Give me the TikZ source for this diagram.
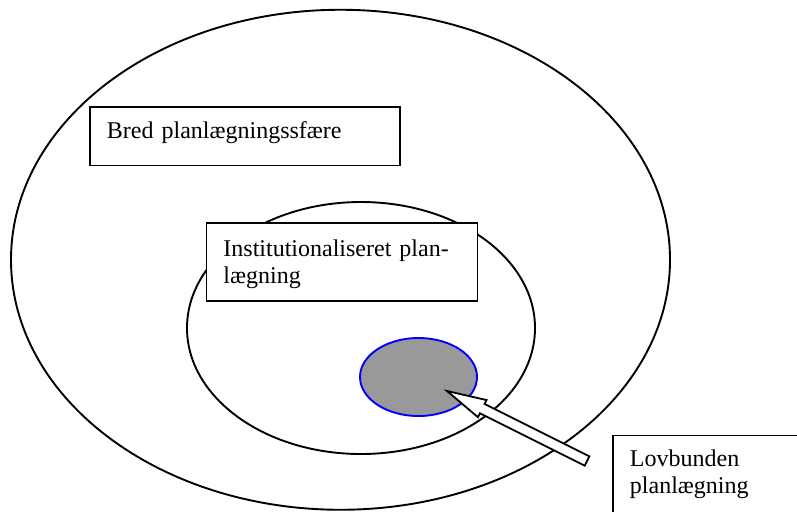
\documentclass[tikz,border=0pt]{standalone}
\usepackage{fontspec}
\setmainfont{Liberation Serif}
\usetikzlibrary{shapes.geometric,calc}
\definecolor{coreblue}{HTML}{0000FF}
\definecolor{coregray}{HTML}{999999}

\begin{document}
\begin{tikzpicture}[
  x=0.5pt,y=-0.5pt,
  font=\fontsize{12}{13.5}\selectfont,
  ring/.style={draw=black,line width=0.95pt,ellipse,inner sep=0pt},
  box/.style={draw=black,fill=white,line width=0.95pt,anchor=north west,align=left,inner xsep=8.5pt,inner ysep=0pt},
  hollow/.style={draw=black,fill=white,line width=0.9pt,line join=miter},
]
\useasboundingbox (0,0) rectangle (797,511);
\clip (0,0) rectangle (797,511);

% --- spheres
\node[ring,minimum width=329.5pt,minimum height=250pt] (outer) at (340.5,259.75) {};
\node[ring,minimum width=174pt,minimum height=126pt] (inner) at (361,328) {};
\node[ring,draw=coreblue,fill=coregray,minimum width=58.5pt,minimum height=39pt] (core) at (418.5,377) {};

% --- labels
\node[box,text width=138pt,minimum height=29.25pt,text depth=6.5pt] (bred) at (89,106) {Bred planlægningssfære};
\node[box,text width=118.5pt,minimum height=39pt,text depth=14.1pt] (inst) at (205.5,222) {Institutionaliseret plan-\\lægning};
\node[box,text width=83pt,minimum height=39pt] (lov) at (612,434.5) {Lovbunden\\planlægning};

% --- block arrow into the core
\coordinate (tip) at ($(core)+(28.5,14)$);
\coordinate (tail) at (587,461);
\coordinate (neck) at ($(tip)!0.252!(tail)$);
\draw[hollow] (tip) -- ($(neck)!4.8pt!90:(tail)$) -- ($(neck)!2.6pt!90:(tail)$)
  -- ($(tail)!2.6pt!-90:(tip)$) -- ($(tail)!2.6pt!90:(tip)$)
  -- ($(neck)!2.6pt!-90:(tail)$) -- ($(neck)!4.8pt!-90:(tail)$) -- cycle;
\end{tikzpicture}
\end{document}
